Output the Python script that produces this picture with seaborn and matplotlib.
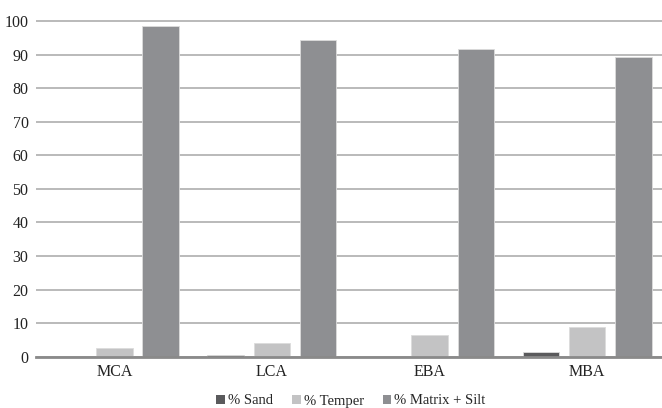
import numpy as np
import pandas as pd
import matplotlib
matplotlib.use("Agg")
import matplotlib.pyplot as plt
import seaborn as sns

periods = ["MCA", "LCA", "EBA", "MBA"]
sand = [0.0, 0.6, 0.0, 1.4]
temper = [2.5, 4.0, 6.5, 8.9]
matrix_silt = [98.5, 94.2, 91.6, 89.2]
series_names = ["% Sand", "% Temper", "% Matrix + Silt"]
colors = ["#5a5a5c", "#c3c3c4", "#8e8f92"]

df = pd.DataFrame({
    "period": periods * 3,
    "value": sand + temper + matrix_silt,
    "series": [s for s in series_names for _ in periods],
})

sns.set_style("white")
plt.rcParams["font.family"] = ["Liberation Serif", "DejaVu Serif"]

fig = plt.figure(figsize=(6.62, 4.08), dpi=100)
y0 = 356.7
px_per = 3.357
top_val = 101
ax = fig.add_axes([35.5 / 662, 1 - y0 / 408, 1 - 35.5 / 662 + 0.006,
                   top_val * px_per / 408])

sns.barplot(data=df, x="period", y="value", hue="series", palette=colors,
            width=0.88, gap=0.21, ax=ax, edgecolor="#dcdcdc", linewidth=0.6,
            saturation=1)
# no outline on empty bars
for p in ax.patches:
    if p.get_height() == 0:
        p.set_linewidth(0)

ax.set_ylim(0, top_val)
ax.set_xlim(-0.5, 3.5)
ax.set_yticks(range(0, 101, 10))
ax.yaxis.grid(True, color="#b4b4b4", linewidth=1.3)
ax.set_axisbelow(True)
for s in ["top", "right", "left"]:
    ax.spines[s].set_visible(False)
ax.spines["bottom"].set_color("#8a8a8a")
ax.spines["bottom"].set_linewidth(2)
ax.tick_params(axis="both", length=0, labelsize=11.5, colors="#222222")
ax.tick_params(axis="y", pad=5)
ax.tick_params(axis="x", pad=5)
ax.set_xlabel("")
ax.set_ylabel("")

handles, labels = ax.get_legend_handles_labels()
ax.legend(handles, labels, loc="center", bbox_to_anchor=(351 / 662, 7 / 408),
          bbox_transform=fig.transFigure, ncol=3, frameon=False,
          fontsize=10.5, handlelength=0.6, handleheight=0.6,
          handletextpad=0.2, columnspacing=1.3)

fig.savefig("out.png", dpi=100)
